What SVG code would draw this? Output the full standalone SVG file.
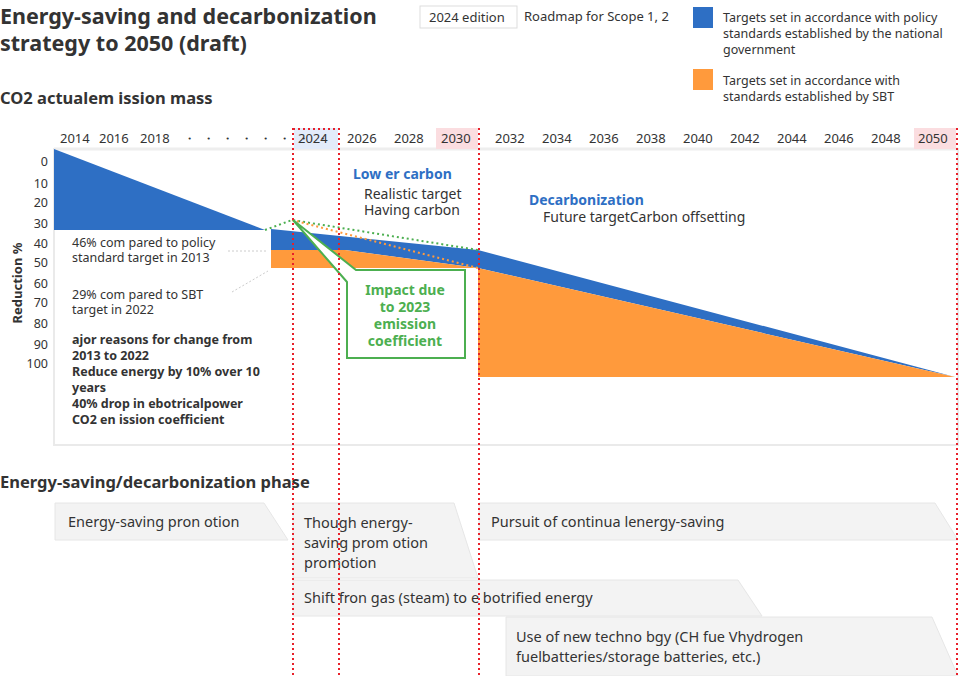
<svg xmlns="http://www.w3.org/2000/svg" width="961" height="676" viewBox="0 0 961 676">
<style>
text{font-family:"Noto Sans","DejaVu Sans",sans-serif;fill:#333}
.t{font-size:21.5px;font-weight:bold}
.h{font-size:16.5px;font-weight:bold}
.s{font-size:13px}
.yr{font-size:13px;fill:#333}
.ax{font-size:12.5px;text-anchor:end}
.lg{font-size:12.5px}
.bar{fill:#f3f3f3;stroke:#e6e6e6;stroke-width:1}
.ph{font-size:14.5px}
.red{stroke:#e8202a;stroke-width:2;stroke-dasharray:2 3;fill:none}
</style>
<rect width="961" height="676" fill="#fff"/>
<g id="title">
<text class="t" x="0" y="24">Energy-saving and decarbonization</text>
<text class="t" x="0" y="51">strategy to 2050 (draft)</text>
<rect x="420" y="6" width="97" height="22" fill="#fff" stroke="#ddd"/>
<text class="s" x="429" y="22">2024 edition</text>
<text class="s" x="524" y="21">Roadmap for Scope 1, 2</text>
</g>
<g id="legend">
<rect x="693" y="7" width="20" height="21" fill="#2e6fc4"/>
<text class="lg" x="723" y="22">Targets set in accordance with policy</text>
<text class="lg" x="723" y="38">standards established by the national</text>
<text class="lg" x="723" y="54">government</text>
<rect x="693" y="69" width="20" height="21" fill="#ff9a3c"/>
<text class="lg" x="723" y="85">Targets set in accordance with</text>
<text class="lg" x="723" y="101">standards established by SBT</text>
</g>
<text class="h" x="0" y="104">CO2 actualem ission mass</text>
<g id="chart">
<rect x="54" y="149" width="904" height="296" fill="#fff" stroke="#eaeaea" stroke-width="2"/>
<line x1="54" y1="149" x2="958" y2="149" stroke="#eee" stroke-width="3"/>
<rect x="294" y="128" width="44" height="21" fill="#e3ecfa"/>
<rect x="436" y="128" width="42" height="21" fill="#fbdde0"/>
<rect x="914" y="128" width="42" height="21" fill="#fbdde0"/>
<g class="yr">
<text x="60" y="143">2014</text><text x="99" y="143">2016</text><text x="140" y="143">2018</text>
<text x="183" y="143" letter-spacing="6">・・・・・・・・</text>
<text x="298" y="143">2024</text><text x="347" y="143">2026</text><text x="394" y="143">2028</text><text x="441" y="143">2030</text>
<text x="495" y="143">2032</text><text x="542" y="143">2034</text><text x="589" y="143">2036</text><text x="636" y="143">2038</text><text x="683" y="143">2040</text><text x="730" y="143">2042</text><text x="777" y="143">2044</text><text x="824" y="143">2046</text><text x="871" y="143">2048</text><text x="918" y="143">2050</text>
</g>
<g class="ax">
<text x="48" y="166">0</text><text x="48" y="188">10</text><text x="48" y="207">20</text><text x="48" y="228">30</text><text x="48" y="248">40</text><text x="48" y="267">50</text><text x="48" y="288">60</text><text x="48" y="307">70</text><text x="48" y="328">80</text><text x="48" y="349">90</text><text x="48" y="368">100</text>
</g>
<text x="22" y="283" font-size="13" font-weight="bold" transform="rotate(-90 22 283)" text-anchor="middle">Reduction %</text>
<polygon points="54,149 54,230 265,230" fill="#2e6fc4"/>
<polygon points="271,229 478,250 955,377 478,268 345,250 271,250" fill="#2e6fc4"/>
<polygon points="271,250 345,250 478,268 955,377 478,377 478,268 271,268" fill="#ff9a3c"/>
<polyline points="265,230 292,220 478,250" fill="none" stroke="#4caf50" stroke-width="2" stroke-dasharray="2 3"/>
<line x1="292" y1="220" x2="478" y2="268" stroke="#ff9a3c" stroke-width="2" stroke-dasharray="2 3"/>
<line x1="228" y1="251" x2="268" y2="251" stroke="#ccc" stroke-dasharray="2 2"/>
<line x1="232" y1="292" x2="268" y2="271" stroke="#ccc" stroke-dasharray="2 2"/>
<g font-size="12.5">
<text x="72" y="247">46% com pared to policy</text>
<text x="72" y="262">standard target in 2013</text>
<text x="72" y="299">29% com pared to SBT</text>
<text x="72" y="314">target in 2022</text>
</g>
<g font-size="12.5" font-weight="bold">
<text x="72" y="344">ajor reasons for change from</text>
<text x="72" y="360">2013 to 2022</text>
<text x="72" y="376">Reduce energy by 10% over 10</text>
<text x="72" y="392">years</text>
<text x="72" y="408">40% drop in ebotricalpower</text>
<text x="72" y="424">CO2 en ission coefficient</text>
</g>
<text x="353" y="179" font-size="14" font-weight="bold" style="fill:#2e6fc4">Low er carbon</text>
<text x="364" y="199" font-size="14">Realistic target</text>
<text x="364" y="215" font-size="14">Having carbon</text>
<text x="529" y="205" font-size="14" font-weight="bold" style="fill:#2e6fc4">Decarbonization</text>
<text x="543" y="222" font-size="14">Future targetCarbon offsetting</text>
</g>
<g id="callout">
<path d="M347,282 L293,220 L356,270 L465,270 L465,358 L347,358 Z" fill="#fff" stroke="#4caf50" stroke-width="2"/>
<g font-size="14" font-weight="bold" text-anchor="middle">
<text x="405" y="295" style="fill:#4caf50">Impact due</text>
<text x="405" y="312" style="fill:#4caf50">to 2023</text>
<text x="405" y="329" style="fill:#4caf50">emission</text>
<text x="405" y="346" style="fill:#4caf50">coefficient</text>
</g>
</g>
<text class="h" x="0" y="488">Energy-saving/decarbonization phase</text>
<g id="phases">
<polygon class="bar" points="55,503 264,503 288,540 55,540"/>
<polygon class="bar" points="293,503 454,503 478,578 293,578"/>
<polygon class="bar" points="479,503 935,503 958,540 479,540"/>
<polygon class="bar" points="293,580 738,580 762,616 293,616"/>
<polygon class="bar" points="506,617 932,617 958,676 506,676"/>
<text class="ph" x="68" y="527">Energy-saving pron otion</text>
<text class="ph" x="304" y="528">Though energy-</text>
<text class="ph" x="304" y="548">saving prom otion</text>
<text class="ph" x="304" y="568">promotion</text>
<text class="ph" x="491" y="527">Pursuit of continua lenergy-saving</text>
<text class="ph" x="304" y="603">Shift fron gas (steam) to e botrified energy</text>
<text class="ph" x="516" y="642">Use of new techno bgy (CH fue Vhydrogen</text>
<text class="ph" x="516" y="662">fuelbatteries/storage batteries, etc.)</text>
</g>
<g id="connectors">
<line class="red" x1="293" y1="128" x2="293" y2="676"/>
<line class="red" x1="339" y1="128" x2="339" y2="676"/>
<line class="red" x1="293" y1="129" x2="339" y2="129"/>
<line class="red" x1="479" y1="128" x2="479" y2="676"/>
<line class="red" x1="957" y1="128" x2="957" y2="676"/>
</g>
</svg>
